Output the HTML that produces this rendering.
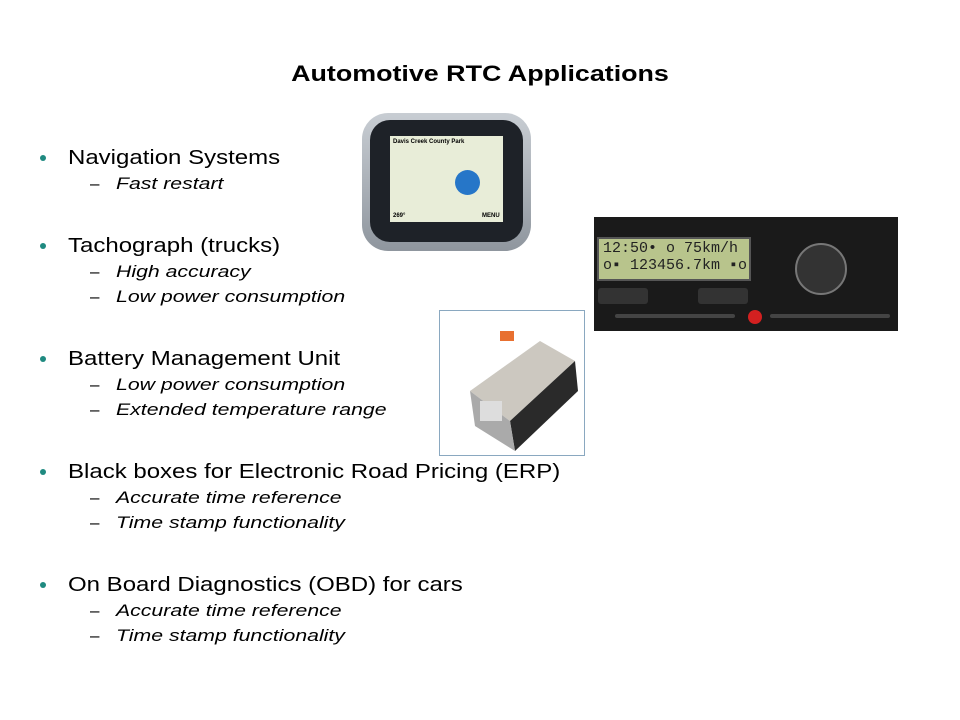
<!DOCTYPE html>
<html><head><style>
body{margin:0;width:960px;height:720px;background:#fff;position:relative;font-family:"Liberation Sans",sans-serif;overflow:hidden}
.t{position:absolute;white-space:nowrap;line-height:1;transform-origin:left top}
.h{font-size:22px;font-weight:bold;left:0;width:960px;text-align:center;top:63px;transform:scaleX(1.22);transform-origin:center top}
.b{font-size:20px;left:68px;transform:scaleX(1.2)}
.d{position:absolute;left:40px;width:6px;height:6px;border-radius:50%;background:#1f8a80}
.s{font-size:17px;font-style:italic;left:116px;transform:scaleX(1.25)}
.m{font-size:17px;left:90px}
.a{position:absolute}
</style></head><body>
<div class="t h">Automotive RTC Applications</div>

<div class="d" style="top:155px"></div><div class="t b" style="top:148px">Navigation Systems</div>
<div class="t m" style="top:175px">–</div><div class="t s" style="top:175px">Fast restart</div>

<div class="d" style="top:243px"></div><div class="t b" style="top:236px">Tachograph (trucks)</div>
<div class="t m" style="top:263px">–</div><div class="t s" style="top:263px">High accuracy</div>
<div class="t m" style="top:288px">–</div><div class="t s" style="top:288px">Low power consumption</div>

<div class="d" style="top:356px"></div><div class="t b" style="top:349px">Battery Management Unit</div>
<div class="t m" style="top:376px">–</div><div class="t s" style="top:376px">Low power consumption</div>
<div class="t m" style="top:401px">–</div><div class="t s" style="top:401px">Extended temperature range</div>

<div class="d" style="top:469px"></div><div class="t b" style="top:462px">Black boxes for Electronic Road Pricing (ERP)</div>
<div class="t m" style="top:489px">–</div><div class="t s" style="top:489px">Accurate time reference</div>
<div class="t m" style="top:514px">–</div><div class="t s" style="top:514px">Time stamp functionality</div>

<div class="d" style="top:582px"></div><div class="t b" style="top:575px">On Board Diagnostics (OBD) for cars</div>
<div class="t m" style="top:602px">–</div><div class="t s" style="top:602px">Accurate time reference</div>
<div class="t m" style="top:627px">–</div><div class="t s" style="top:627px">Time stamp functionality</div>

<!-- GPS -->
<div class="a" style="left:362px;top:113px;width:169px;height:138px;border-radius:26px;background:linear-gradient(#c8cdd3,#8f969e)"></div>
<div class="a" style="left:370px;top:120px;width:153px;height:122px;border-radius:20px;background:#1e2228"></div>
<div class="a" style="left:390px;top:136px;width:113px;height:86px;background:#e8edd8"></div>
<div class="a" style="left:455px;top:170px;width:25px;height:25px;border-radius:50%;background:#2676c8"></div>
<div class="t" style="left:393px;top:139px;font-size:6px;font-weight:bold">Davis Creek County Park</div>
<div class="t" style="left:393px;top:213px;font-size:6px;font-weight:bold">269°</div>
<div class="t" style="left:482px;top:213px;font-size:6px;font-weight:bold">MENU</div>

<!-- Tachograph -->
<div class="a" style="left:594px;top:217px;width:304px;height:114px;background:#1a1a1a"></div>
<div class="a" style="left:597px;top:237px;width:150px;height:40px;background:#b8c48c;border:2px solid #555"></div>
<div class="t" style="left:603px;top:241px;font-family:'Liberation Mono',monospace;font-size:15px;color:#222">12:50• o  75km/h</div>
<div class="t" style="left:603px;top:258px;font-family:'Liberation Mono',monospace;font-size:15px;color:#222">o▪ 123456.7km ▪o</div>
<div class="a" style="left:795px;top:243px;width:48px;height:48px;border-radius:50%;background:#333;border:2px solid #777"></div>
<div class="a" style="left:598px;top:288px;width:50px;height:16px;background:#333;border-radius:3px"></div>
<div class="a" style="left:698px;top:288px;width:50px;height:16px;background:#333;border-radius:3px"></div>
<div class="a" style="left:615px;top:314px;width:120px;height:4px;background:#444;border-radius:2px"></div>
<div class="a" style="left:770px;top:314px;width:120px;height:4px;background:#444;border-radius:2px"></div>
<div class="a" style="left:748px;top:310px;width:14px;height:14px;border-radius:50%;background:#d32020"></div>

<!-- Battery -->
<div class="a" style="left:439px;top:310px;width:144px;height:144px;border:1px solid #8aa8c0;background:#fff"></div>
<svg class="a" style="left:440px;top:311px" width="144" height="144">
<polygon points="30,80 100,30 135,50 70,110" fill="#ccc8c0"/>
<polygon points="70,110 135,50 138,80 75,140" fill="#2a2a2a"/>
<polygon points="30,80 70,110 75,140 35,115" fill="#aaa"/>
<rect x="60" y="20" width="14" height="10" fill="#e87030"/>
<rect x="40" y="90" width="22" height="20" fill="#ddd"/>
</svg>
</body></html>
